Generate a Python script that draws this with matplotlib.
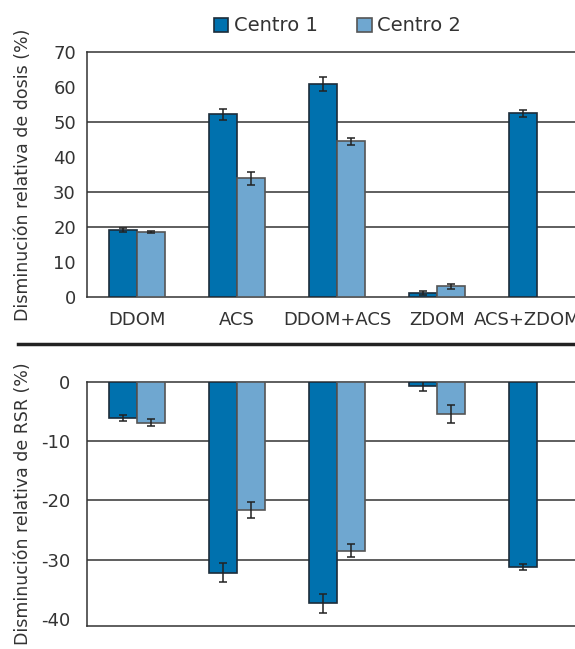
import numpy as np
import matplotlib
matplotlib.use("Agg")
import matplotlib.pyplot as plt
from matplotlib.patches import Patch
from matplotlib.lines import Line2D
from matplotlib.transforms import ScaledTranslation

categories = ["DDOM", "ACS", "DDOM+ACS", "ZDOM", "ACS+ZDOM"]
series = ["Centro 1", "Centro 2"]

dose_c1 = [19.1, 52.2, 60.9, 1.2, 52.5]
dose_c1_err = [0.5, 1.5, 1.9, 0.6, 1.0]
dose_c2 = [18.6, 33.9, 44.5, 3.05, np.nan]
dose_c2_err = [0.4, 1.9, 1.0, 0.8, np.nan]

rsr_c1 = [-6.1, -32.2, -37.4, -0.6, -31.3]
rsr_c1_err = [0.5, 1.6, 1.65, 0.9, 0.5]
rsr_c2 = [-6.9, -21.6, -28.5, -5.4, np.nan]
rsr_c2_err = [0.6, 1.4, 1.1, 1.55, np.nan]

col1 = "#0071ae"
col2 = "#6fa7d0"
edge1 = "#1c2c3a"
edge2 = "#555555"
dark = "#333333"

plt.rcParams["font.family"] = ["DejaVu Sans"]
plt.rcParams["axes.unicode_minus"] = False
fig = plt.figure(figsize=(5.75, 6.49), dpi=100)

x = np.arange(len(categories))
w = 0.28

def draw(ax, v1, e1, v2, e2, grid):
    ax.bar(x - w / 2, v1, w, color=col1, edgecolor=edge1, linewidth=1.2, zorder=3)
    ax.bar(x + w / 2, v2, w, color=col2, edgecolor=edge2, linewidth=1.2, zorder=3)
    ax.errorbar(x - w / 2, v1, yerr=e1, fmt="none", ecolor="#222222",
                elinewidth=1.1, capsize=3, capthick=1.1, zorder=4)
    ax.errorbar(x + w / 2, v2, yerr=e2, fmt="none", ecolor="#222222",
                elinewidth=1.1, capsize=3, capthick=1.1, zorder=4)
    for g in grid:
        ax.axhline(g, color=dark, linewidth=1.1, zorder=1)
    ax.set_xlim(-0.5, 4.5)
    for s in ax.spines.values():
        s.set_color(dark)
        s.set_linewidth(1.1)
    ax.tick_params(length=0, labelsize=13, colors=dark)

ax1 = fig.add_axes([87 / 575, 1 - 297 / 649, 500 / 575, 245 / 649])
draw(ax1, dose_c1, dose_c1_err, dose_c2, dose_c2_err, [20, 30, 50])
ax1.set_ylim(0, 70)
ax1.set_yticks(range(0, 71, 10))
ax1.set_xticks(x)
ax1.set_xticklabels(categories)
ax1.tick_params(axis="y", pad=8)
ax1.tick_params(axis="x", pad=10)
ax1.set_ylabel("Disminución relativa de dosis (%)", fontsize=12.5, color=dark)
ax1.yaxis.set_label_coords(-0.11, 0.5)
# last label sits against the right edge, nudge it left a little
last = ax1.get_xticklabels()[-1]
last.set_transform(last.get_transform() + ScaledTranslation(-10 / 100, 0, fig.dpi_scale_trans))

ax2 = fig.add_axes([87 / 575, 1 - 626 / 649, 500 / 575, 244 / 649])
draw(ax2, rsr_c1, rsr_c1_err, rsr_c2, rsr_c2_err, [-10, -20, -30])
ax2.set_ylim(-41.2, 0)
ax2.set_yticks(range(-40, 1, 10))
ax2.set_xticks([])
ax2.tick_params(axis="y", pad=12)
ax2.set_ylabel("Disminución relativa de RSR (%)", fontsize=12.5, color=dark)
ax2.yaxis.set_label_coords(-0.11, 0.5)

fig.add_artist(Line2D([18 / 575, 1.0], [1 - 344 / 649, 1 - 344 / 649],
                      transform=fig.transFigure, color="#222222", linewidth=2.5))

handles = [Patch(facecolor=col1, edgecolor=edge1, linewidth=1.2),
           Patch(facecolor=col2, edgecolor=edge2, linewidth=1.2)]
fig.legend(handles, series, ncol=2, loc="center", bbox_to_anchor=(0.587, 0.96),
           frameon=False, fontsize=14, handlelength=0.75, handleheight=0.75,
           handletextpad=0.3, columnspacing=2.0, labelcolor=dark)

fig.savefig("out.png", dpi=100)
